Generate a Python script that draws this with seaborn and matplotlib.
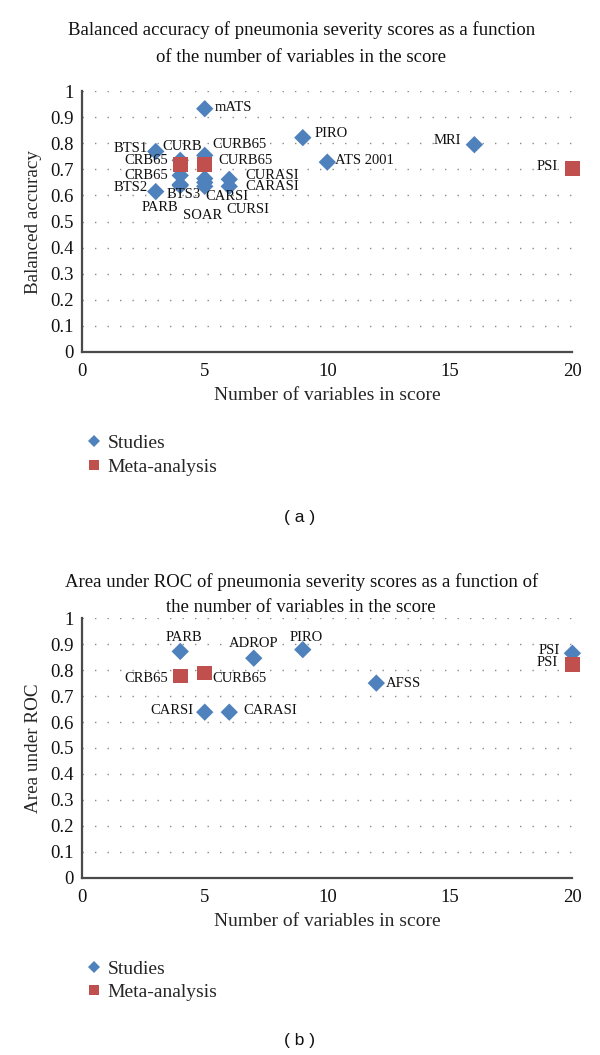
import pandas as pd
import seaborn as sns
import matplotlib
matplotlib.use("Agg")
import matplotlib.pyplot as plt

# panel (a): balanced accuracy
a_study_names = ["mATS", "BTS1", "CURB", "CURB65", "CRB65", "BTS2", "BTS3", "PARB",
                 "CURSI", "SOAR", "CARSI", "CURASI", "CARASI", "PIRO", "ATS 2001", "MRI"]
a_study_nvars = [5, 3, 4, 5, 4, 3, 4, 4, 5, 5, 5, 6, 6, 9, 10, 16]
a_study_vals = [0.933, 0.769, 0.735, 0.754, 0.677, 0.615, 0.638, 0.642,
                0.665, 0.650, 0.635, 0.662, 0.635, 0.822, 0.728, 0.795]
a_meta_names = ["CRB65", "CURB65", "PSI"]
a_meta_nvars = [4, 5, 20]
a_meta_vals = [0.718, 0.718, 0.703]

# panel (b): area under ROC
b_study_names = ["PARB", "ADROP", "PIRO", "CARSI", "CARASI", "AFSS", "PSI"]
b_study_nvars = [4, 7, 9, 5, 6, 12, 20]
b_study_vals = [0.872, 0.846, 0.879, 0.638, 0.638, 0.750, 0.865]
b_meta_names = ["CRB65", "CURB65", "PSI"]
b_meta_nvars = [4, 5, 20]
b_meta_vals = [0.778, 0.789, 0.821]

a_title = ["Balanced accuracy of pneumonia severity scores as a function",
           "of the number of variables in the score"]
b_title = ["Area under ROC of pneumonia severity scores as a function of",
           "the number of variables in the score"]

# label placement: (dx, dy) in pixels, horizontal alignment
a_offsets = {
    ("mATS", "Studies"): (10, 1, "left"),
    ("BTS1", "Studies"): (-8, 3, "right"),
    ("CURB", "Studies"): (2, 14, "center"),
    ("CURB65", "Studies"): (8, 11, "left"),
    ("CRB65", "Studies"): (-12, 0, "right"),
    ("BTS2", "Studies"): (-8, 4, "right"),
    ("BTS3", "Studies"): (3, -9, "center"),
    ("PARB", "Studies"): (-2, -23, "right"),
    ("CURSI", "Studies"): (22, -31, "left"),
    ("SOAR", "Studies"): (-2, -33, "center"),
    ("CARSI", "Studies"): (1, -10, "left"),
    ("CURASI", "Studies"): (16, 4, "left"),
    ("CARASI", "Studies"): (16, 0, "left"),
    ("PIRO", "Studies"): (12, 4, "left"),
    ("ATS 2001", "Studies"): (8, 2, "left"),
    ("MRI", "Studies"): (-13, 4, "right"),
    ("CRB65", "Meta-analysis"): (-12, 4, "right"),
    ("CURB65", "Meta-analysis"): (14, 4, "left"),
    ("PSI", "Meta-analysis"): (-15, 2, "right"),
}
b_offsets = {
    ("PARB", "Studies"): (4, 14, "center"),
    ("ADROP", "Studies"): (0, 15, "center"),
    ("PIRO", "Studies"): (3, 12, "center"),
    ("CARSI", "Studies"): (-11, 2, "right"),
    ("CARASI", "Studies"): (14, 2, "left"),
    ("AFSS", "Studies"): (10, 0, "left"),
    ("PSI", "Studies"): (-13, 3, "right"),
    ("CRB65", "Meta-analysis"): (-12, -3, "right"),
    ("CURB65", "Meta-analysis"): (8, -6, "left"),
    ("PSI", "Meta-analysis"): (-15, 2, "right"),
}

BLUE = "#4F81BD"
RED = "#C0504D"


def make_df(s_names, s_n, s_v, m_names, m_n, m_v):
    studies = pd.DataFrame({"name": s_names, "n": s_n, "v": s_v, "kind": "Studies"})
    meta = pd.DataFrame({"name": m_names, "n": m_n, "v": m_v, "kind": "Meta-analysis"})
    return pd.concat([studies, meta], ignore_index=True)


def draw_panel(ax, df, offsets, ylabel):
    sns.scatterplot(data=df, x="n", y="v", hue="kind", style="kind", size="kind",
                    palette={"Studies": BLUE, "Meta-analysis": RED},
                    markers={"Studies": "D", "Meta-analysis": "s"},
                    sizes={"Studies": 78, "Meta-analysis": 110},
                    edgecolor="none", linewidth=0, alpha=1, ax=ax, zorder=3,
                    clip_on=False)
    for _, row in df.iterrows():
        dx, dy, ha = offsets[(row["name"], row["kind"])]
        ax.annotate(row["name"], (row["n"], row["v"]), xytext=(dx, dy),
                    textcoords="offset pixels", ha=ha, va="center",
                    fontsize=10.5, color="#111111", zorder=4)

    ax.set_xlim(0, 20)
    ax.set_ylim(0, 1)
    ax.set_xticks([0, 5, 10, 15, 20])
    ax.set_yticks([i / 10 for i in range(11)])
    ax.set_yticklabels(["0"] + [f"{i / 10:.1f}" for i in range(1, 10)] + ["1"])
    for yv in [i / 10 for i in range(1, 11)]:
        ax.axhline(yv, color="#8a8a8a", lw=1.0, ls=(0, (1, 8)), zorder=1)
    ax.tick_params(axis="both", length=0, labelsize=13.5, colors="#111111")
    ax.tick_params(axis="y", pad=6)
    ax.tick_params(axis="x", pad=8)
    sns.despine(ax=ax)
    for side in ["left", "bottom"]:
        ax.spines[side].set_color("#4a4a4a")
        ax.spines[side].set_linewidth(1.6)
    ax.set_xlabel("Number of variables in score", fontsize=14, labelpad=5)
    ax.set_ylabel(ylabel, fontsize=13.8, labelpad=6)
    sns.move_legend(ax, "upper left", bbox_to_anchor=(-0.035, -0.25), frameon=False,
                    title=None, fontsize=14, handletextpad=0.1, labelspacing=0.3,
                    markerscale=0.72, handlelength=1.2)


sns.set_theme(style="white")
plt.rcParams["font.family"] = ["Liberation Serif", "DejaVu Serif"]

fig = plt.figure(figsize=(6, 10.55), dpi=100)
ax_a = fig.add_axes([0.137, 0.6665, 0.817, 0.247])
ax_b = fig.add_axes([0.137, 0.1680, 0.817, 0.246])

df_a = make_df(a_study_names, a_study_nvars, a_study_vals, a_meta_names, a_meta_nvars, a_meta_vals)
df_b = make_df(b_study_names, b_study_nvars, b_study_vals, b_meta_names, b_meta_nvars, b_meta_vals)

draw_panel(ax_a, df_a, a_offsets, "Balanced accuracy")
draw_panel(ax_b, df_b, b_offsets, "Area under ROC")

# two-line titles, one text per line
for line, ypix in zip(a_title, [30, 57]):
    fig.text(0.502, 1 - ypix / 1055, line, ha="center", va="center",
             fontsize=13.5, color="#111111")
for line, ypix in zip(b_title, [582, 608]):
    fig.text(0.502, 1 - ypix / 1055, line, ha="center", va="center",
             fontsize=13.5, color="#111111")

fig.text(0.5, 1 - 517 / 1055, "( a )", ha="center", va="center", fontsize=12.5,
         family=["Liberation Sans", "DejaVu Sans"], color="#111111")
fig.text(0.5, 1 - 1040 / 1055, "( b )", ha="center", va="center", fontsize=12.5,
         family=["Liberation Sans", "DejaVu Sans"], color="#111111")

fig.savefig("out.png", dpi=100, facecolor="white")
